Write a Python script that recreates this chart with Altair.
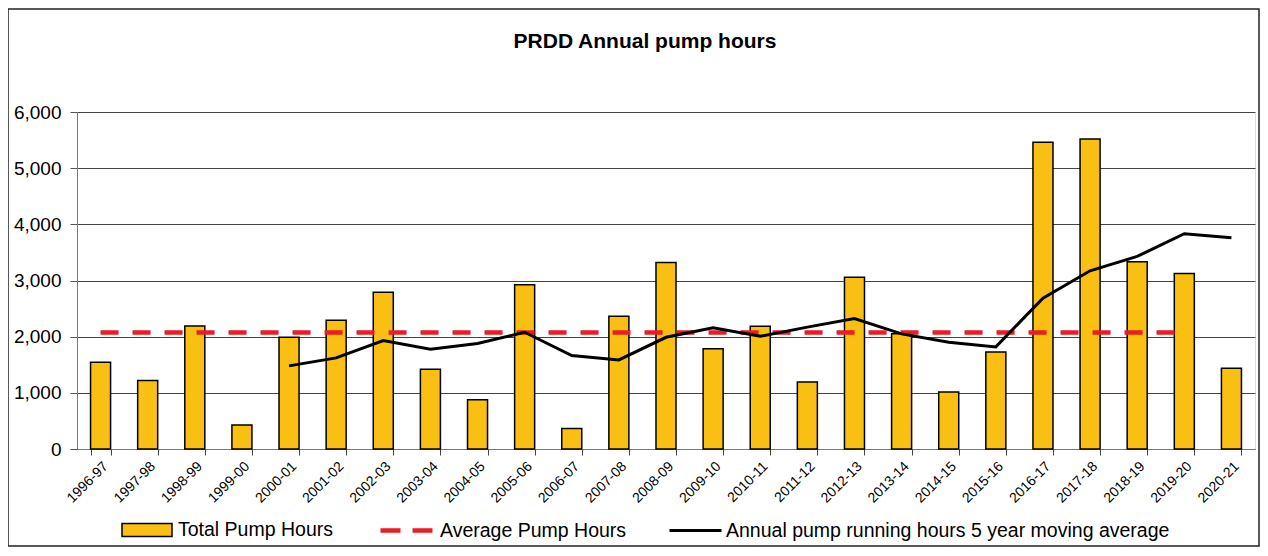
import altair as alt
import pandas as pd

categories = ["1996-97", "1997-98", "1998-99", "1999-00", "2000-01", "2001-02", "2002-03",
              "2003-04", "2004-05", "2005-06", "2006-07", "2007-08", "2008-09", "2009-10",
              "2010-11", "2011-12", "2012-13", "2013-14", "2014-15", "2015-16", "2016-17",
              "2017-18", "2018-19", "2019-20", "2020-21"]
total_hours = [1545, 1218, 2192, 428, 1990, 2292, 2791, 1419, 879, 2923, 367, 2364, 3321,
               1783, 2185, 1194, 3059, 2050, 1016, 1729, 5460, 5520, 3333, 3125, 1438]
avg_categories = categories[:24]
avg_hours = [2075] * 24
ma_categories = categories[4:]
ma_hours = [1480, 1622, 1930, 1775, 1877, 2079, 1663, 1586, 1989, 2157, 2007, 2170, 2323,
            2050, 1900, 1818, 2686, 3173, 3428, 3832, 3761]

FONT = "Liberation Sans"

bars_df = pd.DataFrame({"cat": categories, "v": total_hours, "s": "Total Pump Hours"})
avg_df = pd.DataFrame({"cat": avg_categories, "v": avg_hours, "s": "Average Pump Hours"})
ma_df = pd.DataFrame({"cat": ma_categories, "v": ma_hours,
                      "s": "Annual pump running hours 5 year moving average"})

xscale = alt.Scale(domain=categories, paddingInner=0.575, paddingOuter=0.2875)
xenc = alt.X("cat:N", scale=xscale, sort=categories,
             axis=alt.Axis(title=None, labelAngle=-45, labelFontSize=14, labelFont=FONT,
                           labelColor="black", tickBand="extent", tickSize=6,
                           tickColor="#444", domainColor="#777", labelPadding=4))
yenc = alt.Y("v:Q", scale=alt.Scale(domain=[0, 6000]),
             axis=alt.Axis(title=None, values=[0, 1000, 2000, 3000, 4000, 5000, 6000],
                           format=",.0f", labelFontSize=19, labelFont=FONT, labelColor="black",
                           tickSize=7, tickColor="#555", domainColor="#777",
                           gridColor="#444", gridWidth=1, labelPadding=9))

bar_path = "M-1,-0.26H1V0.26H-1Z"

LEG = dict(title=None, orient="none", labelFontSize=19.5, labelFont=FONT,
           labelColor="black", labelLimit=600)

bars = alt.Chart(bars_df).mark_bar(stroke="black", strokeWidth=1.5).encode(
    x=xenc, y=yenc,
    color=alt.Color("s:N", scale=alt.Scale(range=["#F9C013"]),
                    legend=alt.Legend(legendX=44, legendY=392,
                                      symbolType=bar_path, symbolSize=2500,
                                      symbolStrokeColor="black", symbolStrokeWidth=1.5,
                                      symbolFillColor="#F9C013", symbolOpacity=1,
                                      labelOffset=5, **LEG))
)

avg = alt.Chart(avg_df).mark_line(strokeDash=[18, 14], strokeWidth=4.5).encode(
    x=alt.X("cat:N", scale=xscale, sort=categories),
    y=alt.Y("v:Q"),
    color=alt.Color("s:N", scale=alt.Scale(range=["#EC1C24"]),
                    legend=alt.Legend(legendX=301, legendY=390,
                                      symbolType="stroke", symbolSize=2700,
                                      symbolStrokeWidth=4.5, symbolDash=[20, 12],
                                      labelOffset=5, **LEG))
)

ma = alt.Chart(ma_df).mark_line(strokeWidth=3).encode(
    x=alt.X("cat:N", scale=xscale, sort=categories),
    y=alt.Y("v:Q"),
    color=alt.Color("s:N", scale=alt.Scale(range=["black"]),
                    legend=alt.Legend(legendX=591, legendY=391,
                                      symbolType="stroke", symbolSize=2700,
                                      symbolStrokeWidth=3,
                                      labelOffset=3, **LEG))
)

frame = alt.Chart(pd.DataFrame({"a": [0]})).mark_rect(
    fill="white", fillOpacity=0, stroke="#222", strokeWidth=1.5).encode(
    x=alt.value(-69), x2=alt.value(1182), y=alt.value(-103), y2=alt.value(434))

chart = alt.layer(frame, bars, avg, ma).resolve_scale(color="independent").properties(
    width=1178, height=337,
    title=alt.TitleParams("PRDD Annual pump hours", font=FONT, fontSize=21, fontWeight="bold",
                          color="black", anchor="middle", offset=-44, dx=-21),
    autosize=alt.AutoSizeParams(type="none"),
    padding={"left": 69, "top": 104, "right": 5, "bottom": 99},
).configure_view(stroke=None).configure(background="white")

chart.save("out.html", embed_options={"renderer": "svg", "actions": False})
